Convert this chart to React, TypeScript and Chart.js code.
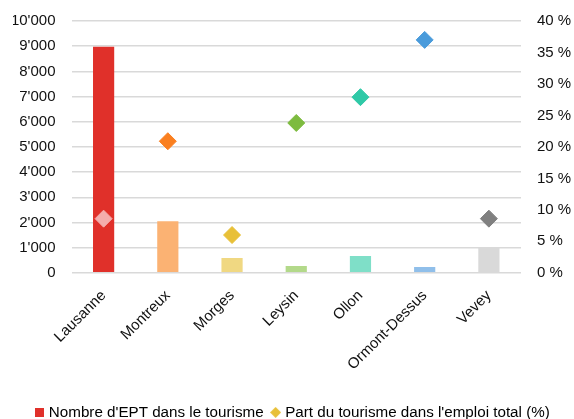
import React, { useEffect, useRef } from 'react';
import { Chart, registerables } from 'chart.js';

Chart.register(...registerables);

const categories = ['Lausanne', 'Montreux', 'Morges', 'Leysin', 'Ollon', 'Ormont-Dessus', 'Vevey'];
const eptValues = [8980, 2050, 590, 270, 670, 230, 980];
const shareValues = [8.6, 20.9, 6.0, 23.8, 27.9, 37.0, 8.6];
const barColors = ['#E0302A', '#FBB273', '#F0D882', '#B3D98A', '#7FDFC8', '#90BFEA', '#D9D9D9'];
const diamondColors = ['#F4ADAD', '#FA7F20', '#E8C038', '#7DBB3F', '#2FC9A7', '#4A9BDB', '#808080'];
const seriesNames = ["Nombre d'EPT dans le tourisme", "Part du tourisme dans l'emploi total (%)"];
const legendColors = ['#E0302A', '#E8C038'];

const FONT = "'Liberation Sans', Arial, Helvetica, sans-serif";

function makeSquare(size: number, color: string) {
  const c = document.createElement('canvas');
  c.width = size;
  c.height = size;
  const ctx = c.getContext('2d')!;
  ctx.fillStyle = color;
  ctx.fillRect(0, 0, size, size);
  return c;
}

function makeDiamond(size: number, color: string) {
  const c = document.createElement('canvas');
  c.width = size;
  c.height = size;
  const ctx = c.getContext('2d')!;
  ctx.fillStyle = color;
  ctx.beginPath();
  ctx.moveTo(size / 2, 0);
  ctx.lineTo(size, size / 2);
  ctx.lineTo(size / 2, size);
  ctx.lineTo(0, size / 2);
  ctx.closePath();
  ctx.fill();
  return c;
}

function formatThousands(v: number) {
  return String(Math.round(v)).replace(/\B(?=(\d{3})+(?!\d))/g, "'");
}

export default function App() {
  const ref = useRef<HTMLCanvasElement | null>(null);

  useEffect(() => {
    if (!ref.current) return;
    const squareIcon = makeSquare(9, legendColors[0]);
    const diamondIcon = makeDiamond(11, legendColors[1]);

    const chart = new Chart(ref.current, {
      type: 'bar',
      data: {
        labels: categories,
        datasets: [
          {
            type: 'bar',
            label: seriesNames[0],
            data: eptValues,
            backgroundColor: barColors,
            borderWidth: 0,
            barPercentage: 0.33,
            categoryPercentage: 1,
            yAxisID: 'y',
            order: 2,
          },
          {
            type: 'line',
            label: seriesNames[1],
            data: shareValues,
            showLine: false,
            pointStyle: 'rectRot',
            pointRadius: 8.5,
            pointHoverRadius: 8.5,
            pointBackgroundColor: diamondColors,
            pointBorderColor: diamondColors,
            pointBorderWidth: 1,
            yAxisID: 'y1',
            order: 1,
          } as any,
        ],
      },
      options: {
        animation: false,
        responsive: true,
        maintainAspectRatio: false,
        layout: { padding: { top: 21, left: 13, right: 0, bottom: -11 } },
        plugins: {
          tooltip: { enabled: false },
          legend: {
            position: 'bottom',
            labels: {
              usePointStyle: true,
              boxWidth: 4,
              boxHeight: 9,
              padding: 10,
              color: '#111',
              font: { family: FONT, size: 15.2 },
              generateLabels: () => [
                {
                  text: seriesNames[0],
                  fillStyle: legendColors[0],
                  strokeStyle: legendColors[0],
                  lineWidth: 0,
                  pointStyle: squareIcon as any,
                  datasetIndex: 0,
                  hidden: false,
                },
                {
                  text: seriesNames[1],
                  fillStyle: legendColors[1],
                  strokeStyle: legendColors[1],
                  lineWidth: 0,
                  pointStyle: diamondIcon as any,
                  datasetIndex: 1,
                  hidden: false,
                },
              ],
            },
          },
        },
        scales: {
          x: {
            grid: { display: false, drawTicks: false },
            border: { display: false },
            ticks: {
              color: '#111',
              font: { family: FONT, size: 15 },
              maxRotation: 45,
              minRotation: 45,
              padding: 14,
              autoSkip: false,
            },
            afterFit: (scale: any) => {
              scale.height = 122;
            },
          },
          y: {
            position: 'left',
            min: 0,
            max: 10000,
            grid: { color: '#D9D9D9', lineWidth: 1.5, drawTicks: false },
            border: { display: false },
            ticks: {
              stepSize: 1000,
              color: '#111',
              font: { family: FONT, size: 15 },
              padding: 16,
              callback: (v: any) => formatThousands(Number(v)),
            },
            afterFit: (scale: any) => {
              scale.width = 58.5;
              scale.paddingTop = 0;
              scale.paddingBottom = 0;
            },
          },
          y1: {
            position: 'right',
            min: 0,
            max: 40,
            grid: { drawOnChartArea: false, drawTicks: false },
            border: { display: false },
            ticks: {
              stepSize: 5,
              color: '#111',
              font: { family: FONT, size: 15 },
              padding: 16,
              callback: (v: any) => `${v} %`,
            },
            afterFit: (scale: any) => {
              scale.width = 53;
              scale.paddingTop = 0;
              scale.paddingBottom = 0;
            },
          },
        },
      },
    });
    return () => chart.destroy();
  }, []);

  return (
    <div style={{ position: 'fixed', left: 0, top: 0, width: 574, height: 419, background: '#fff' }}>
      <canvas ref={ref} />
    </div>
  );
}
